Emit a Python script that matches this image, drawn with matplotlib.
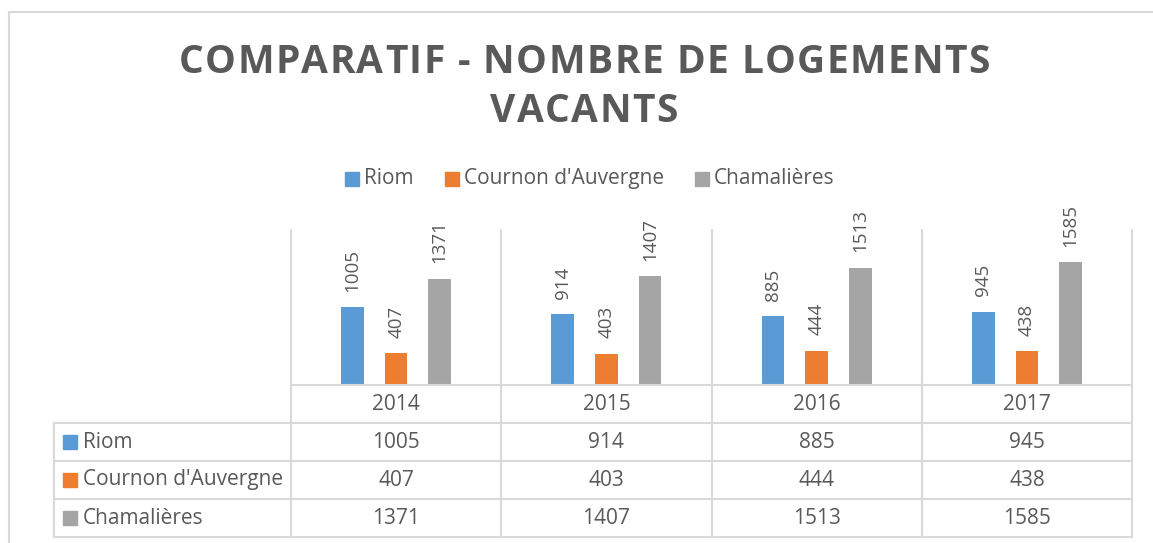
import numpy as np
import matplotlib.pyplot as plt
from matplotlib.patches import Rectangle
from matplotlib.lines import Line2D
from matplotlib.ft2font import FT2Font
from matplotlib.font_manager import findfont, FontProperties

# donnees
annees = ['2014', '2015', '2016', '2017']
villes = ['Riom', "Cournon d'Auvergne", 'Chamalières']
riom = [1005, 914, 885, 945]
cournon = [407, 403, 444, 438]
chamalieres = [1371, 1407, 1513, 1585]
couleurs = ['#5B9BD5', '#ED7D31', '#A5A5A5']

TXT = '#595959'
GRID = '#D9D9D9'
FONT = 'Open Sans'
W, H = 1153, 543

fig = plt.figure(figsize=(W / 100, H / 100), dpi=100)


def px_box(x0, y0, x1, y1):
    # boite en pixels (origine en haut a gauche) -> fraction de figure
    return [x0 / W, 1 - y1 / H, (x1 - x0) / W, (y1 - y0) / H]


def fx(px):
    return px / W


def fy(py):
    return 1 - py / H


# titre avec espacement des lettres
def titre_espace(lignes, cx, bases, size, largeur1):
    path = findfont(FontProperties(family=FONT, weight='bold'))
    ft = FT2Font(path)
    ft.set_size(size, 100)
    def avances(s):
        res = []
        for ch in s:
            g = ft.load_char(ord(ch))
            res.append(g.linearHoriAdvance / 65536)
        return res
    adv0 = avances(lignes[0])
    esp = (largeur1 - sum(adv0)) / (len(lignes[0]) - 1)
    for ligne, base in zip(lignes, bases):
        adv = avances(ligne)
        total = sum(adv) + esp * (len(ligne) - 1)
        x = cx - total / 2
        for ch, a in zip(ligne, adv):
            fig.text(fx(x + a / 2), fy(base), ch, ha='center', va='baseline',
                     fontsize=size, fontweight='bold', family=FONT, color=TXT)
            x += a + esp


titre_espace(['COMPARATIF - NOMBRE DE LOGEMENTS', 'VACANTS'], 584, [73, 122], 28, 811)

# legende
leg_carre = [345, 445, 695]
for nom, c, xc in zip(villes, couleurs, leg_carre):
    fig.patches.append(Rectangle((fx(xc), fy(186)), 14 / W, 14 / H, color=c,
                                 transform=fig.transFigure))
    fig.text(fx(xc + 19), fy(179), nom, ha='left', va='center', fontsize=15,
             family=FONT, color=TXT)

# graphique
ax = fig.add_axes(px_box(291, 230, 1132, 385))
x = np.arange(len(annees))
series = [riom, cournon, chamalieres]
for k, (vals, c) in enumerate(zip(series, couleurs)):
    pos = x + (k - 1) * 0.207
    ax.bar(pos, vals, width=0.108, color=c, zorder=2)
    for xi, v in zip(pos, vals):
        ax.annotate(str(v), (xi, v), xytext=(0, 11), textcoords='offset points',
                    rotation=90, ha='center', va='bottom', fontsize=13.5,
                    family=FONT, color=TXT)
ax.set_xlim(-0.5, 3.5)
ax.set_ylim(0, 2000)
ax.axis('off')
for b in np.arange(-0.5, 4):
    ax.axvline(b, color=GRID, lw=1.5, clip_on=False, zorder=1)

# tableau de donnees
col = 210.25
xl = -0.5 - (291 - 54) / col
tab = fig.add_axes(px_box(54, 385, 1132, 537))
tab.set_xlim(xl, 3.5)
tab.set_ylim(4, 0)
tab.axis('off')
tab.plot([-0.5, 3.5], [0, 0], color=GRID, lw=1.5, clip_on=False)
for r in range(1, 5):
    tab.plot([xl, 3.5], [r, r], color=GRID, lw=1.5, clip_on=False)
for b in np.arange(-0.5, 4):
    tab.plot([b, b], [0, 4], color=GRID, lw=1.5, clip_on=False)
tab.plot([xl, xl], [1, 4], color=GRID, lw=1.5, clip_on=False)

for i, a in enumerate(annees):
    tab.text(i, 0.5, a, ha='center', va='center', fontsize=15, family=FONT, color=TXT)
for r, (nom, vals, c) in enumerate(zip(villes, series, couleurs)):
    y = r + 1.5
    tab.add_patch(Rectangle((xl + 9 / col, y - 7 / 38), 14 / col, 14 / 38, color=c, clip_on=False))
    tab.text(xl + 29 / col, y, nom, ha='left', va='center', fontsize=15,
             family=FONT, color=TXT)
    for i, v in enumerate(vals):
        tab.text(i, y, str(v), ha='center', va='center', fontsize=15,
                 family=FONT, color=TXT)

# cadre du graphique
fig.lines.append(Line2D([fx(8.5), fx(8.5)], [fy(11.5), 0], color=GRID, lw=1.5,
                        transform=fig.transFigure))
fig.lines.append(Line2D([fx(8.5), 1], [fy(11.5), fy(11.5)], color=GRID, lw=1.5,
                        transform=fig.transFigure))

fig.savefig('out.png', dpi=100, facecolor='white')
